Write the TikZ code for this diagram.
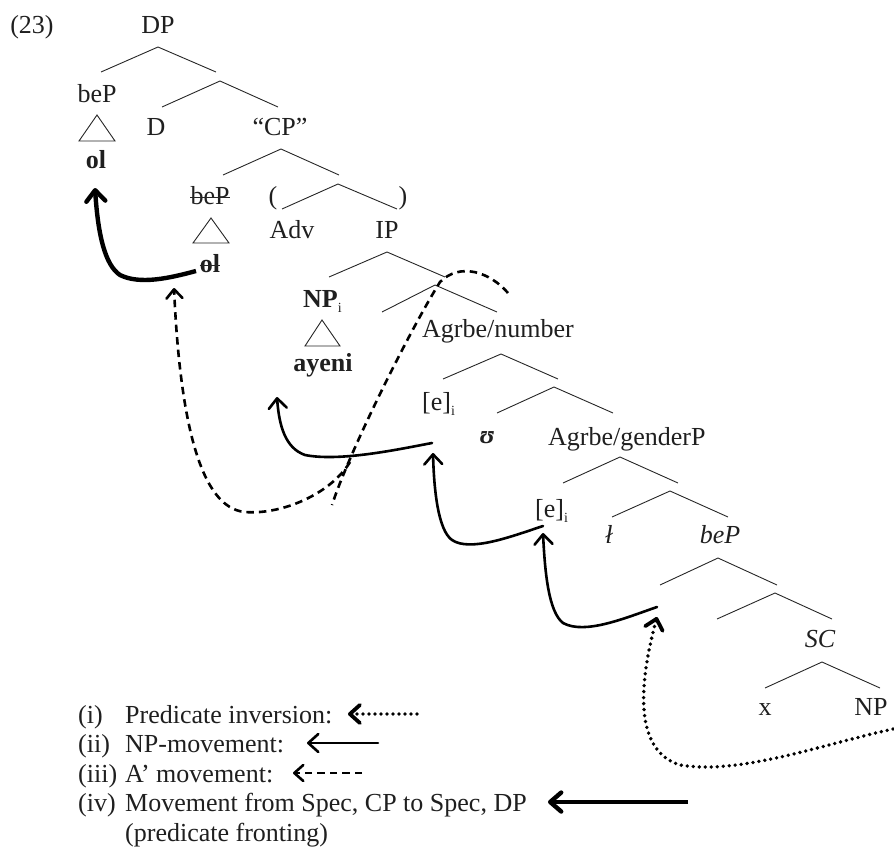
\documentclass[tikz,border=0pt]{standalone}
\usepackage{fontspec}
\setmainfont{Liberation Serif}
\usetikzlibrary{arrows.meta}
\newcommand\mysub[1]{\raisebox{-5pt}{\fontsize{14}{14}\selectfont\mdseries\upshape #1}}
\newcommand\mybranch[4]{%
  \coordinate (#1a) at #2; \coordinate (#1l) at #3; \coordinate (#1r) at #4;
  \draw[tree] (#1l) -- (#1a) -- (#1r);}
\newcommand\mytri[4]{%
  \coordinate (#1a) at #2; \coordinate (#1l) at #3; \coordinate (#1r) at #4;
  \draw[tree] (#1l) -- (#1a) -- (#1r) -- cycle;}
\begin{document}
\begin{tikzpicture}[x=1pt,y=-1pt,
  every node/.style={inner sep=0pt, text=black!88, font=\fontsize{26}{31}\selectfont},
  tree/.style={line width=0.9pt, draw=black!85},
  lab/.style={anchor=base},
  labw/.style={anchor=base west},
  strike/.style={line width=1pt, draw=black!85},
  npmove/.style={line width=2.6pt, line cap=round, -{Straight Barb[length=10pt,width=18pt,line cap=round,line join=round]}},
  fronting/.style={line width=4.4pt, -{Straight Barb[length=11pt,width=19pt,line cap=round,line join=round]}},
  abarmove/.style={line width=2.6pt, dash pattern=on 7.5pt off 5pt, -{Straight Barb[length=9pt,width=16pt,line cap=round,line join=round]}},
  abarline/.style={line width=2.6pt, dash pattern=on 7.5pt off 5pt},
  inversion/.style={line width=3.8pt, line cap=round, dash pattern=on 0pt off 6pt, -{Straight Barb[length=10pt,width=18pt,line cap=round,line join=round]}},
]
\useasboundingbox (0,0) rectangle (894,857);

% ---------- tree labels ----------
\node[lab] (ex) at (32,33) {(23)};
\node[lab] (dp) at (158,33) {DP};
\node[lab] (bepA) at (97,102) {beP};
\node[lab] (olA) at (96,168) {\bfseries ol};
\node[lab] (d) at (156,135) {D};
\node[lab] (cp) at (280,135) {“CP”};
\node[lab] (bepB) at (210,204) {beP};
\node[lab] (olB) at (210,272) {\bfseries ol};
\node[lab] (lp) at (273,204) {(};
\node[lab] (rp) at (403,204) {)};
\node[lab] (adv) at (292,238) {Adv};
\node[lab] (ip) at (387,238) {IP};
\node[labw] (npi) at (303,307) {\bfseries NP\mysub{i}};
\node[lab] (ayeni) at (323,371) {\bfseries ayeni};
\node[labw] (agrn) at (422,337) {Agrbe/number};
\node[labw] (eA) at (422,410) {[e]\mysub{i}};
\node[lab] (u) at (487,443) {\bfseries\itshape ʊ};
\node[labw] (agrg) at (548,445) {Agrbe/genderP};
\node[labw] (eB) at (535,517) {[e]\mysub{i}};
\node[lab] (lbar) at (609,543) {\itshape ł};
\node[lab] (bepC) at (720,543) {\itshape beP};
\node[lab] (sc) at (820,647) {\itshape SC};
\node[lab] (x) at (765,715) {x};
\node[lab] (np) at (871,715) {NP};

% strike-throughs
\draw[strike] ([yshift=7pt]bepB.base west) -- ([yshift=7pt]bepB.base east);
\draw[strike] ([yshift=7pt]olB.base west) -- ([yshift=7pt]olB.base east);

% ---------- branches ----------
\mybranch{b1}{(158,47)}{(101,72)}{(216,72)}
\mybranch{b2}{(220,81)}{(162,107)}{(278,107)}
\mybranch{b3}{(281,149)}{(223,175)}{(339,175)}
\mybranch{b4}{(338,184)}{(282,209)}{(397,209)}
\mybranch{b5}{(387,252)}{(329,277)}{(445,277)}
\mybranch{b6}{(435,285)}{(382,312)}{(497,312)}
\mybranch{b7}{(501,354)}{(443,379)}{(558,379)}
\mybranch{b8}{(554,387)}{(497,413)}{(613,413)}
\mybranch{b9}{(620,457)}{(563,483)}{(678,483)}
\mybranch{b10}{(670,491)}{(612,517)}{(728,517)}
\mybranch{b11}{(718,558)}{(660,585)}{(777,585)}
\mybranch{b12}{(775,593)}{(717,619)}{(832,619)}
\mybranch{b13}{(822,662)}{(765,688)}{(880,688)}

% triangles
\mytri{t1}{(97,115)}{(79,141)}{(115,141)}
\mytri{t2}{(211,218)}{(193,243)}{(229,243)}
\mytri{t3}{(322,320)}{(305,346)}{(340,346)}

% ---------- movement arrows ----------
% (iv) predicate fronting
\coordinate (fs) at (196,271);
\coordinate (fm) at (120,275);
\coordinate (ft) at (95,188);
\draw[fronting] (fs) .. controls (170,278) and (140,285) .. (fm)
                     .. controls (105,265) and (98,235) .. (ft);

% (ii) NP-movement
\coordinate (nas) at (432,443);
\coordinate (nam) at (305,455);
\coordinate (nat) at (277,397);
\draw[npmove] (nas) .. controls (400,449) and (340,462) .. (nam)
                    .. controls (285,448) and (279,425) .. (nat);
\coordinate (nbs) at (543,526);
\coordinate (nbm) at (452,540);
\coordinate (nbt) at (433,453);
\draw[npmove] (nbs) .. controls (510,537) and (470,552) .. (nbm)
                    .. controls (438,530) and (434,490) .. (nbt);
\coordinate (ncs) at (657,607);
\coordinate (ncm) at (563,623);
\coordinate (nct) at (543,533);
\draw[npmove] (ncs) .. controls (625,618) and (585,635) .. (ncm)
                    .. controls (549,612) and (545,575) .. (nct);

% (i) predicate inversion
\coordinate (ps) at (893,729);
\coordinate (pm) at (680,765);
\coordinate (pt) at (657,617);
\draw[inversion] (ps) .. controls (820,745) and (740,775) .. (pm)
                      .. controls (632,750) and (640,680) .. (pt);

% (iii) A' movement
\coordinate (qs) at (508,293);
\coordinate (qm) at (440,282);
\coordinate (qe) at (332,505);
\draw[abarline] (qs) .. controls (490,272) and (460,262) .. (qm)
                     .. controls (410,330) and (350,450) .. (qe);
\coordinate (rs) at (350,462);
\coordinate (rm) at (245,512);
\coordinate (rt) at (174,288);
\draw[abarmove] (rs) .. controls (330,495) and (280,515) .. (rm)
                     .. controls (200,508) and (180,420) .. (rt);

% ---------- legend ----------
\node[labw] (n1) at (78,723) {(i)};
\node[labw] (l1) at (125,723) {Predicate inversion:};
\node[labw] (n2) at (78,752) {(ii)};
\node[labw] (l2) at (125,752) {NP-movement:};
\node[labw] (n3) at (78,782) {(iii)};
\node[labw] (l3) at (125,782) {A’ movement:};
\node[labw] (n4) at (78,811) {(iv)};
\node[labw] (l4) at (125,811) {Movement from Spec, CP to Spec, DP};
\node[labw] (l5) at (125,841) {(predicate fronting)};

\coordinate (k1s) at (417,714); \coordinate (k1e) at (348,714);
\draw[inversion] (k1s) -- (k1e);
\coordinate (k2s) at (378,743); \coordinate (k2e) at (307,743);
\draw[npmove] (k2s) -- (k2e);
\coordinate (k3s) at (362,773); \coordinate (k3e) at (293,773);
\draw[abarmove] (k3s) -- (k3e);
\coordinate (k4s) at (688,802); \coordinate (k4e) at (548,802);
\draw[fronting] (k4s) -- (k4e);
\end{tikzpicture}
\end{document}
